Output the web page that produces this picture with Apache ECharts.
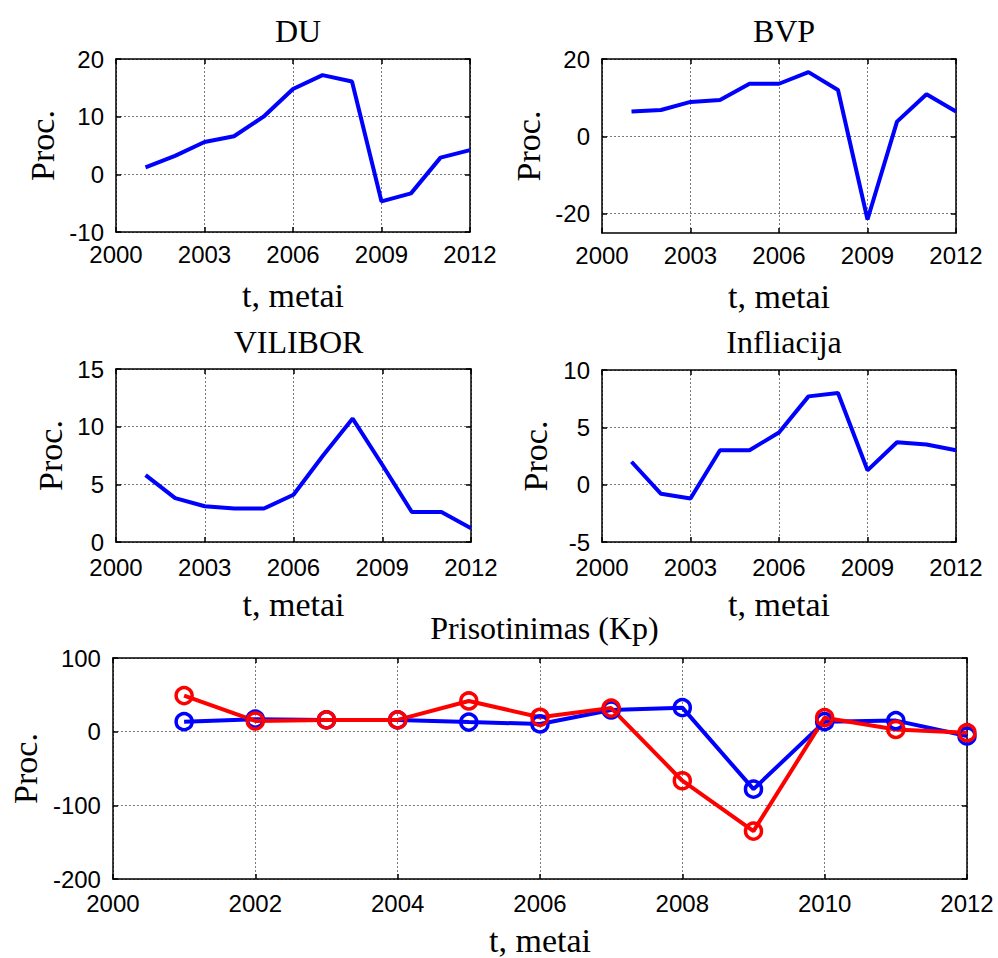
<!DOCTYPE html>
<html>
<head>
<meta charset="utf-8">
<script src="https://cdn.jsdelivr.net/npm/echarts@6/dist/echarts.min.js"></script>
<style>
html,body{margin:0;padding:0;background:#fff;}
#chart{width:998px;height:958px;}
</style>
</head>
<body>
<div id="chart"></div>
<script>
// ---- data ----
const years = [2001, 2002, 2003, 2004, 2005, 2006, 2007, 2008, 2009, 2010, 2011, 2012];
const du = [1.2, 3.2, 5.6, 6.6, 10.0, 14.8, 17.2, 16.1, -4.7, -3.3, 2.9, 4.2];
const bvp = [6.4, 6.8, 8.9, 9.4, 13.6, 13.6, 16.6, 12.0, -21.5, 3.8, 10.9, 6.4];
const vilibor = [5.8, 3.8, 3.1, 2.9, 2.9, 4.1, 7.5, 10.7, 6.7, 2.6, 2.6, 1.2];
const infliacija = [2.0, -0.8, -1.2, 3.0, 3.0, 4.55, 7.7, 8.0, 1.25, 3.7, 3.5, 3.0];
const kpBlue = [13.6, 17, 16, 16, 13, 10.5, 29.4, 32.6, -78, 13.6, 15, -5.9];
const kpRed = [49, 14.5, 16, 16, 41.7, 19.5, 32, -66.6, -135, 19, 3, -1.4];

const xTicksTop = [2000, 2003, 2006, 2009, 2012];
const xTicksBottom = [2000, 2002, 2004, 2006, 2008, 2010, 2012];
const duTicks = [-10, 0, 10, 20];
const bvpTicks = [-20, 0, 20];
const viliborTicks = [0, 5, 10, 15];
const inflTicks = [-5, 0, 5, 10];
const kpTicks = [-200, -100, 0, 100];

const titles = ['DU', 'BVP', 'VILIBOR', 'Infliacija', 'Prisotinimas (Kp)'];
const xName = 't, metai';
const yName = 'Proc.';

// ---- layout ----
const panels = [
  {left: 116, top: 59, width: 354, height: 173, ymin: -10, ymax: 20, yticks: duTicks, xticks: xTicksTop, yGap: 57, xGap: 46, xm: 13},
  {left: 602, top: 59, width: 354, height: 174, ymin: -25, ymax: 20, yticks: bvpTicks, xticks: xTicksTop, yGap: 57, xGap: 46, xm: 13},
  {left: 116, top: 369, width: 355, height: 173, ymin: 0, ymax: 15, yticks: viliborTicks, xticks: xTicksTop, yGap: 49, xGap: 45, xm: 16},
  {left: 602, top: 370, width: 354, height: 172, ymin: -5, ymax: 10, yticks: inflTicks, xticks: xTicksTop, yGap: 50, xGap: 45, xm: 16},
  {left: 112, top: 658, width: 855, height: 223, ymin: -200, ymax: 100, yticks: kpTicks, xticks: xTicksBottom, yGap: 70, xGap: 44, xm: 15}
];
const titleY = [10, 10, 321, 321, 607];

const sans = 'Liberation Sans';
const serif = 'Liberation Serif';
const axisLineStyle = {color: '#000', width: 1.5};
const gridLineStyle = {color: '#555', width: 0.8, type: [2, 2]};
const plain = v => String(v);

const grid = [], xAxis = [], yAxis = [], title = [], series = [];

panels.forEach((p, i) => {
  grid.push({left: p.left, top: p.top, width: p.width, height: p.height, containLabel: false});
  title.push({
    text: titles[i], left: p.left + p.width / 2, top: titleY[i], textAlign: 'center',
    textStyle: {fontFamily: serif, fontSize: 32, fontWeight: 'normal', color: '#000'}
  });
  // bottom x axis
  xAxis.push({
    type: 'value', gridIndex: i, position: 'bottom', min: 2000, max: 2012,
    name: xName, nameLocation: 'middle', nameGap: p.xGap,
    nameTextStyle: {fontFamily: serif, fontSize: 34, color: '#000'},
    axisLine: {show: true, onZero: false, lineStyle: axisLineStyle},
    axisTick: {show: true, inside: true, length: 5, lineStyle: {color: '#000', width: 1.5}, customValues: p.xticks},
    axisLabel: {show: true, margin: p.xm, lineHeight: 18, fontFamily: sans, fontSize: 24, color: '#000', customValues: p.xticks, formatter: plain},
    splitLine: {show: true, lineStyle: gridLineStyle}
  });
  // top x axis (box + ticks)
  xAxis.push({
    type: 'value', gridIndex: i, position: 'top', min: 2000, max: 2012,
    axisLine: {show: true, onZero: false, lineStyle: axisLineStyle},
    axisTick: {show: true, inside: true, length: 5, lineStyle: {color: '#000', width: 1.5}, customValues: p.xticks},
    axisLabel: {show: false, customValues: p.xticks},
    splitLine: {show: false}
  });
  // left y axis
  yAxis.push({
    type: 'value', gridIndex: i, position: 'left', min: p.ymin, max: p.ymax,
    name: yName, nameLocation: 'middle', nameGap: p.yGap,
    nameTextStyle: {fontFamily: serif, fontSize: 34, color: '#000'},
    axisLine: {show: true, onZero: false, lineStyle: axisLineStyle},
    axisTick: {show: true, inside: true, length: 5, lineStyle: {color: '#000', width: 1.5}, customValues: p.yticks},
    axisLabel: {show: true, margin: 12, lineHeight: 18, fontFamily: sans, fontSize: 24, color: '#000', customValues: p.yticks, formatter: plain},
    splitLine: {show: true, lineStyle: gridLineStyle}
  });
  // right y axis
  yAxis.push({
    type: 'value', gridIndex: i, position: 'right', min: p.ymin, max: p.ymax,
    axisLine: {show: true, onZero: false, lineStyle: axisLineStyle},
    axisTick: {show: true, inside: true, length: 5, lineStyle: {color: '#000', width: 1.5}, customValues: p.yticks},
    axisLabel: {show: false, customValues: p.yticks},
    splitLine: {show: false}
  });
});

function pairs(vals) { return years.map((y, k) => [y, vals[k]]); }

function plainLine(idx, vals) {
  return {
    type: 'line', xAxisIndex: idx * 2, yAxisIndex: idx * 2, data: pairs(vals),
    symbol: 'none', lineStyle: {color: '#0000ff', width: 4}, itemStyle: {color: '#0000ff'},
    animation: false, silent: true
  };
}
function markerLine(idx, vals, color) {
  return {
    type: 'line', xAxisIndex: idx * 2, yAxisIndex: idx * 2, data: pairs(vals),
    symbol: 'circle', symbolSize: 16, showSymbol: true,
    lineStyle: {color: color, width: 4},
    itemStyle: {color: 'rgba(255,255,255,0)', borderColor: color, borderWidth: 3.5},
    animation: false, silent: true
  };
}

series.push(plainLine(0, du));
series.push(plainLine(1, bvp));
series.push(plainLine(2, vilibor));
series.push(plainLine(3, infliacija));
series.push(markerLine(4, kpBlue, '#0000ff'));
series.push(markerLine(4, kpRed, '#ff0000'));

const chart = echarts.init(document.getElementById('chart'), null, {renderer: 'svg'});
chart.setOption({
  backgroundColor: '#fff',
  animation: false,
  title: title,
  grid: grid,
  xAxis: xAxis,
  yAxis: yAxis,
  series: series
});
</script>
</body>
</html>
